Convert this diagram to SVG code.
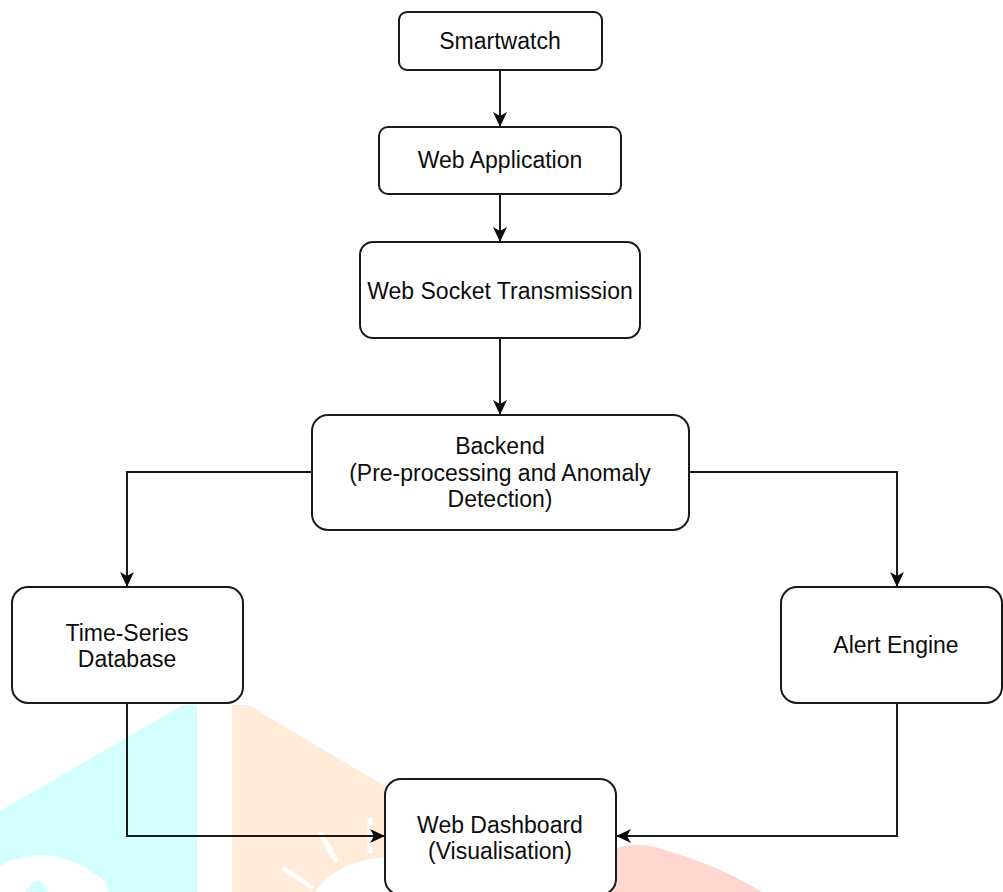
<svg xmlns="http://www.w3.org/2000/svg" width="1003" height="892" viewBox="0 0 1003 892">
<style>
.box{fill:#ffffff;stroke:#1a1a1a;stroke-width:2}
.lbl{font-family:"Liberation Sans",Arial,sans-serif;font-size:23px;fill:#0d0d0d;text-anchor:middle}
.edge{fill:none;stroke:#1a1a1a;stroke-width:2}
.ray{stroke:#ffffff;stroke-width:5;stroke-linecap:butt}
</style>
<defs>
<marker id="arr" markerUnits="userSpaceOnUse" markerWidth="16" markerHeight="14" refX="15" refY="7" orient="auto">
<path d="M0,0 L15,7 L0,14 L4,7 Z" fill="#0d0d0d"/>
</marker>
</defs>
<rect x="0" y="0" width="1003" height="892" fill="#ffffff"/>
<g id="watermark">
<path d="M0,811 L183,705 L197,705 L197,892 L0,892 Z" fill="#d2fefe"/>
<path d="M0,866 Q52,838 106,882 L108,892 L48,892 Q40,870 25,892 L0,892 Z" fill="#ffffff"/>
<path d="M232,705 L248,705 L400,795 L400,892 L232,892 Z" fill="#ffebd8"/>
<path d="M315,892 Q335,862 385,857 L400,857 L400,892 Z" fill="#ffffff"/>
<line class="ray" x1="370" y1="818" x2="370" y2="853"/>
<line class="ray" x1="320" y1="832" x2="337" y2="862"/>
<line class="ray" x1="283" y1="868" x2="313" y2="888"/>
<path d="M610,892 L610,850 Q638,840 665,850 Q720,866 762,892 Z" fill="#ffd6d0"/>
</g>
<g id="connectors">
<line class="edge" x1="500" y1="70" x2="500" y2="127" marker-end="url(#arr)"/>
<line class="edge" x1="500" y1="194" x2="500" y2="242" marker-end="url(#arr)"/>
<line class="edge" x1="500" y1="338" x2="500" y2="415" marker-end="url(#arr)"/>
<polyline class="edge" points="312,472 127,472 127,587" marker-end="url(#arr)"/>
<polyline class="edge" points="689,472 897,472 897,587" marker-end="url(#arr)"/>
<polyline class="edge" points="127,703 127,836 385,836" marker-end="url(#arr)"/>
<polyline class="edge" points="897,703 897,836 616,836" marker-end="url(#arr)"/>
</g>
<g id="smartwatch">
<rect class="box" x="399" y="12" width="203" height="58" rx="8"/>
<text class="lbl" x="500" y="49">Smartwatch</text>
</g>
<g id="webapp">
<rect class="box" x="379" y="127" width="242" height="67" rx="9"/>
<text class="lbl" x="500" y="168">Web Application</text>
</g>
<g id="websocket">
<rect class="box" x="360" y="242" width="280" height="96" rx="13"/>
<text class="lbl" x="500" y="299">Web Socket Transmission</text>
</g>
<g id="backend">
<rect class="box" x="312" y="415" width="377" height="115" rx="16"/>
<text class="lbl" x="500" y="454">Backend</text>
<text class="lbl" x="500" y="481">(Pre-processing and Anomaly</text>
<text class="lbl" x="500" y="507">Detection)</text>
</g>
<g id="tsdb">
<rect class="box" x="12" y="587" width="231" height="116" rx="16"/>
<text class="lbl" x="127" y="641">Time-Series</text>
<text class="lbl" x="127" y="667">Database</text>
</g>
<g id="alert">
<rect class="box" x="781" y="587" width="221" height="116" rx="16"/>
<text class="lbl" x="896" y="653">Alert Engine</text>
</g>
<g id="dashboard">
<rect class="box" x="385" y="779" width="231" height="116" rx="16"/>
<text class="lbl" x="500" y="833">Web Dashboard</text>
<text class="lbl" x="500" y="859">(Visualisation)</text>
</g>
</svg>
